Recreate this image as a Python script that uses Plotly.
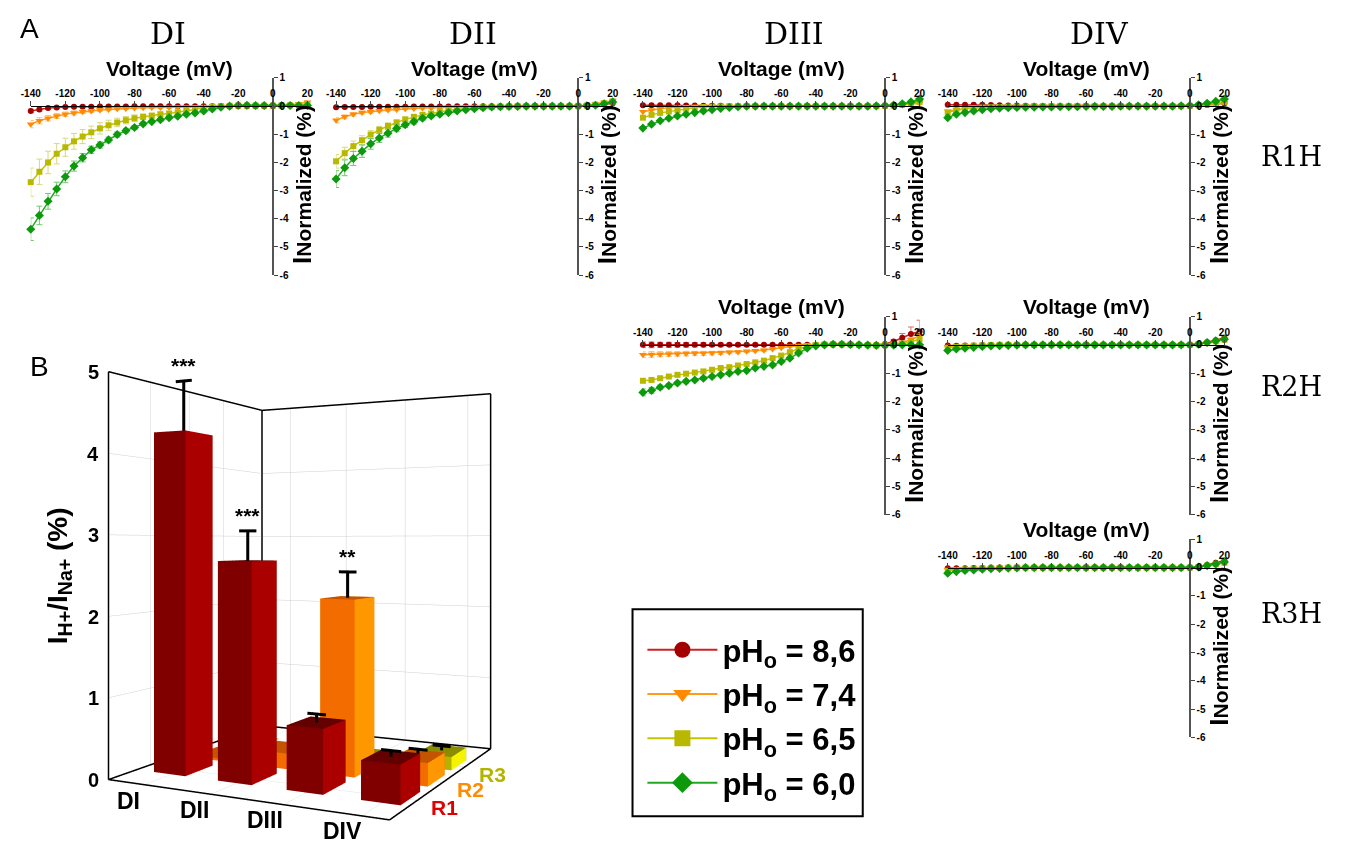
import plotly.graph_objects as go

W, H = 1347, 844

# ---------------- DATA ----------------
voltage = [-140, -135, -130, -125, -120, -115, -110, -105, -100, -95, -90, -85, -80,
           -75, -70, -65, -60, -55, -50, -45, -40, -35, -30, -25, -20, -15, -10, -5,
           0, 5, 10, 15, 20]

ph_labels = ["pH<sub>o</sub> = 8,6", "pH<sub>o</sub> = 7,4", "pH<sub>o</sub> = 6,5", "pH<sub>o</sub> = 6,0"]

# R1H - DI
r1_di_86 = [-0.17, -0.12, -0.07, -0.05, -0.03, -0.02, -0.02, -0.02, -0.01, -0.01, -0.01, -0.01, 0.00,
            0.00, 0.00, 0.00, 0.00, 0.00, 0.00, 0.00, 0.00, 0.00, 0.00, 0.00, 0.00, 0.00, 0.00, 0.00,
            0.00, 0.01, 0.02, 0.03, 0.04]
r1_di_74 = [-0.64, -0.52, -0.43, -0.35, -0.29, -0.24, -0.20, -0.17, -0.14, -0.12, -0.09, -0.08, -0.07,
            -0.06, -0.05, -0.05, -0.04, -0.03, -0.03, -0.02, -0.02, -0.01, 0.00, 0.01, 0.01, 0.01, 0.01, 0.01,
            0.01, 0.02, 0.04, 0.08, 0.14]
r1_di_65 = [-2.70, -2.33, -2.00, -1.69, -1.46, -1.25, -1.08, -0.93, -0.79, -0.68, -0.58, -0.50, -0.43,
            -0.38, -0.34, -0.29, -0.26, -0.22, -0.17, -0.12, -0.06, -0.02, 0.00, 0.01, 0.02, 0.02, 0.02, 0.02,
            0.02, 0.02, 0.03, 0.04, 0.06]
r1_di_60 = [-4.37, -3.88, -3.38, -2.94, -2.51, -2.13, -1.83, -1.55, -1.38, -1.20, -1.01, -0.87, -0.76,
            -0.63, -0.55, -0.48, -0.41, -0.36, -0.29, -0.24, -0.17, -0.10, -0.04, 0.00, 0.03, 0.03, 0.02, 0.02,
            0.02, 0.02, 0.02, 0.02, 0.02]
r1_di_86_err = [0.06, 0.05, 0.04, 0.04, 0.03, 0.03, 0.03, 0.03, 0.02, 0.02, 0.02, 0.02, 0.02,
                0.02, 0.02, 0.02, 0.02, 0.02, 0.02, 0.02, 0.02, 0.02, 0.02, 0.02, 0.02, 0.02, 0.02, 0.02,
                0.02, 0.02, 0.02, 0.02, 0.02]
r1_di_74_err = [0.13, 0.11, 0.10, 0.09, 0.08, 0.07, 0.06, 0.05, 0.05, 0.04, 0.04, 0.04, 0.03,
                0.03, 0.03, 0.03, 0.03, 0.02, 0.02, 0.02, 0.02, 0.02, 0.02, 0.02, 0.02, 0.02, 0.02, 0.02,
                0.02, 0.02, 0.03, 0.04, 0.05]
r1_di_65_err = [0.50, 0.45, 0.40, 0.36, 0.32, 0.28, 0.25, 0.22, 0.20, 0.18, 0.15, 0.13, 0.12,
                0.10, 0.09, 0.08, 0.07, 0.06, 0.05, 0.04, 0.04, 0.03, 0.02, 0.02, 0.02, 0.02, 0.02, 0.02,
                0.02, 0.02, 0.02, 0.02, 0.02]
r1_di_60_err = [0.40, 0.33, 0.28, 0.24, 0.21, 0.18, 0.15, 0.13, 0.11, 0.10, 0.09, 0.08, 0.07,
                0.06, 0.05, 0.05, 0.04, 0.04, 0.03, 0.03, 0.03, 0.02, 0.02, 0.02, 0.02, 0.02, 0.02, 0.02,
                0.02, 0.02, 0.02, 0.02, 0.02]

# R1H - DII
r1_dii_86 = [-0.04, -0.03, -0.03, -0.03, -0.02, -0.02, -0.02, -0.02, -0.02, -0.01, -0.01, -0.01, -0.01,
             -0.01, 0.00, 0.00, 0.00, 0.00, 0.00, 0.00, 0.00, 0.00, 0.00, 0.00, 0.00, 0.00, 0.00, 0.00,
             0.00, 0.01, 0.03, 0.06, 0.10]
r1_dii_74 = [-0.50, -0.38, -0.29, -0.23, -0.20, -0.16, -0.14, -0.12, -0.09, -0.08, -0.07, -0.06, -0.05,
             -0.04, -0.03, -0.02, -0.02, -0.01, -0.01, 0.00, 0.00, 0.00, 0.00, 0.00, 0.00, 0.00, 0.00, 0.00,
             0.01, 0.03, 0.07, 0.13, 0.20]
r1_dii_65 = [-1.96, -1.67, -1.42, -1.21, -1.01, -0.84, -0.70, -0.58, -0.47, -0.38, -0.31, -0.26, -0.20,
             -0.15, -0.12, -0.08, -0.06, -0.04, -0.03, -0.02, -0.01, 0.00, 0.00, 0.00, 0.00, 0.00, 0.00, 0.00,
             0.01, 0.02, 0.05, 0.10, 0.16]
r1_dii_60 = [-2.59, -2.19, -1.86, -1.60, -1.34, -1.13, -0.96, -0.79, -0.66, -0.55, -0.43, -0.35, -0.29,
             -0.23, -0.17, -0.13, -0.09, -0.06, -0.03, -0.02, -0.01, -0.01, 0.00, 0.00, 0.00, 0.00, 0.00, 0.00,
             0.00, 0.01, 0.03, 0.08, 0.15]
r1_dii_86_err = [0.04, 0.04, 0.03, 0.03, 0.03, 0.03, 0.02, 0.02, 0.02, 0.02, 0.02, 0.02, 0.02,
                 0.02, 0.02, 0.02, 0.02, 0.02, 0.02, 0.02, 0.02, 0.02, 0.02, 0.02, 0.02, 0.02, 0.02, 0.02,
                 0.02, 0.02, 0.02, 0.03, 0.03]
r1_dii_74_err = [0.09, 0.07, 0.06, 0.05, 0.05, 0.04, 0.04, 0.04, 0.03, 0.03, 0.03, 0.03, 0.02,
                 0.02, 0.02, 0.02, 0.02, 0.02, 0.02, 0.02, 0.02, 0.02, 0.02, 0.02, 0.02, 0.02, 0.02, 0.02,
                 0.02, 0.02, 0.03, 0.03, 0.04]
r1_dii_65_err = [0.24, 0.21, 0.18, 0.16, 0.14, 0.12, 0.10, 0.09, 0.08, 0.07, 0.06, 0.05, 0.05,
                 0.04, 0.04, 0.03, 0.03, 0.03, 0.02, 0.02, 0.02, 0.02, 0.02, 0.02, 0.02, 0.02, 0.02, 0.02,
                 0.02, 0.02, 0.02, 0.03, 0.03]
r1_dii_60_err = [0.30, 0.28, 0.25, 0.22, 0.19, 0.16, 0.14, 0.12, 0.10, 0.09, 0.07, 0.06, 0.05,
                 0.05, 0.04, 0.04, 0.03, 0.03, 0.02, 0.02, 0.02, 0.02, 0.02, 0.02, 0.02, 0.02, 0.02, 0.02,
                 0.02, 0.02, 0.02, 0.03, 0.03]

# R1H - DIII
r1_diii_86 = [0.03, 0.03, 0.03, 0.03, 0.03, 0.02, 0.02, 0.01, 0.01, 0.01, 0.00, 0.00, 0.00,
              0.00, 0.00, 0.00, 0.00, 0.00, 0.00, 0.00, 0.00, 0.00, 0.00, 0.00, 0.00, 0.00, 0.00, 0.00,
              0.00, 0.02, 0.05, 0.10, 0.18]
r1_diii_74 = [-0.20, -0.14, -0.09, -0.06, -0.03, -0.02, -0.01, 0.00, 0.00, 0.00, 0.00, 0.00, 0.00,
              0.00, 0.00, 0.00, 0.00, 0.00, 0.00, 0.00, 0.00, 0.00, 0.00, 0.00, 0.00, 0.00, 0.00, 0.00,
              0.01, 0.02, 0.04, 0.07, 0.10]
r1_diii_65 = [-0.41, -0.31, -0.24, -0.19, -0.14, -0.09, -0.06, -0.03, -0.02, -0.01, 0.00, 0.00, 0.00,
              0.00, 0.00, 0.00, 0.00, 0.00, 0.00, 0.00, 0.00, 0.00, 0.00, 0.00, 0.00, 0.00, 0.00, 0.00,
              0.01, 0.02, 0.05, 0.09, 0.15]
r1_diii_60 = [-0.78, -0.64, -0.52, -0.43, -0.35, -0.29, -0.23, -0.17, -0.13, -0.08, -0.05, -0.02, 0.00,
              0.00, 0.00, 0.00, 0.00, 0.00, 0.00, 0.00, 0.00, 0.00, 0.00, 0.00, 0.00, 0.00, 0.00, 0.01,
              0.02, 0.04, 0.08, 0.15, 0.25]

# R1H - DIV
r1_div_86 = [0.05, 0.05, 0.05, 0.05, 0.05, 0.04, 0.03, 0.02, 0.02, 0.01, 0.01, 0.00, 0.00,
             0.00, 0.00, 0.00, 0.00, 0.00, 0.00, 0.00, 0.00, 0.00, 0.00, 0.00, 0.00, 0.00, 0.00, 0.00,
             0.00, 0.02, 0.04, 0.07, 0.10]
r1_div_74 = [-0.18, -0.12, -0.08, -0.06, -0.04, -0.03, -0.02, -0.02, -0.01, -0.01, 0.00, 0.00, 0.00,
             0.00, 0.00, 0.00, 0.00, 0.00, 0.00, 0.00, 0.00, 0.00, -0.02, 0.00, 0.00, 0.00, 0.00, 0.00,
             0.00, 0.02, 0.05, 0.08, 0.12]
r1_div_65 = [-0.23, -0.15, -0.10, -0.07, -0.05, -0.04, -0.03, -0.02, -0.02, -0.01, 0.00, 0.00, 0.00,
             0.00, 0.00, 0.00, 0.00, 0.00, 0.00, 0.00, 0.00, 0.00, 0.00, 0.00, 0.00, 0.00, 0.00, 0.00,
             0.01, 0.03, 0.07, 0.11, 0.15]
r1_div_60 = [-0.41, -0.29, -0.23, -0.17, -0.13, -0.09, -0.07, -0.06, -0.05, -0.04, -0.04, -0.03, -0.03,
             -0.02, -0.02, -0.02, -0.01, -0.01, -0.01, -0.01, 0.00, 0.00, 0.00, 0.00, 0.00, 0.00, 0.00, 0.01,
             0.02, 0.05, 0.10, 0.17, 0.25]

# R2H - DIII
r2_diii_86 = [0.00, 0.00, 0.00, 0.00, 0.00, 0.00, 0.00, 0.00, 0.00, 0.00, 0.00, 0.00, 0.00,
              0.00, 0.00, 0.00, 0.00, 0.00, 0.00, 0.00, 0.00, 0.00, 0.00, 0.00, 0.00, 0.00, 0.00, 0.00,
              0.03, 0.12, 0.25, 0.38, 0.47]
r2_diii_74 = [-0.35, -0.34, -0.33, -0.32, -0.32, -0.31, -0.30, -0.30, -0.29, -0.28, -0.26, -0.25, -0.23,
              -0.21, -0.19, -0.15, -0.10, -0.05, -0.02, 0.00, 0.01, 0.02, 0.02, 0.02, 0.01, 0.00, -0.01, -0.02,
              -0.02, 0.02, 0.08, 0.18, 0.32]
r2_diii_65 = [-1.27, -1.24, -1.18, -1.12, -1.06, -1.02, -0.98, -0.94, -0.88, -0.82, -0.79, -0.73, -0.68,
              -0.62, -0.56, -0.47, -0.38, -0.26, -0.14, -0.06, -0.01, 0.01, 0.02, 0.02, 0.01, 0.00, -0.01, -0.02,
              -0.01, 0.01, 0.04, 0.10, 0.20]
r2_diii_60 = [-1.68, -1.61, -1.50, -1.44, -1.35, -1.29, -1.24, -1.18, -1.12, -1.06, -1.00, -0.94, -0.91,
              -0.82, -0.76, -0.71, -0.59, -0.47, -0.29, -0.12, -0.04, 0.00, 0.02, 0.02, 0.01, 0.00, -0.01, -0.02,
              -0.02, -0.01, 0.00, 0.00, 0.00]
r2_diii_86_err = [0.10, 0.10, 0.09, 0.09, 0.08, 0.08, 0.07, 0.07, 0.06, 0.06, 0.05, 0.05, 0.04,
                  0.04, 0.03, 0.03, 0.03, 0.02, 0.02, 0.02, 0.02, 0.02, 0.02, 0.02, 0.02, 0.02, 0.02, 0.02,
                  0.03, 0.06, 0.15, 0.25, 0.40]
r2_diii_74_err = [0.10, 0.10, 0.09, 0.09, 0.08, 0.08, 0.07, 0.07, 0.06, 0.06, 0.05, 0.05, 0.04,
                  0.04, 0.04, 0.03, 0.03, 0.03, 0.02, 0.02, 0.02, 0.02, 0.02, 0.02, 0.02, 0.02, 0.02, 0.02,
                  0.02, 0.03, 0.05, 0.08, 0.12]
r2_diii_65_err = [0.07, 0.06, 0.06, 0.05, 0.05, 0.05, 0.04, 0.04, 0.04, 0.04, 0.03, 0.03, 0.03,
                  0.03, 0.03, 0.03, 0.02, 0.02, 0.02, 0.02, 0.02, 0.02, 0.02, 0.02, 0.02, 0.02, 0.02, 0.02,
                  0.02, 0.02, 0.03, 0.04, 0.05]
r2_diii_60_err = [0.12, 0.10, 0.08, 0.07, 0.06, 0.06, 0.05, 0.05, 0.05, 0.04, 0.04, 0.04, 0.04,
                  0.04, 0.04, 0.03, 0.03, 0.03, 0.03, 0.02, 0.02, 0.02, 0.02, 0.02, 0.02, 0.02, 0.02, 0.02,
                  0.02, 0.02, 0.02, 0.02, 0.02]

# R2H - DIV
r2_div_86 = [-0.02, -0.03, -0.02, -0.02, -0.01, -0.01, 0.00, 0.00, 0.00, 0.00, 0.00, 0.00, 0.00,
             0.00, 0.00, 0.00, 0.00, 0.00, 0.00, 0.00, 0.00, 0.00, 0.00, 0.00, 0.00, 0.00, 0.00, 0.00,
             0.00, 0.03, 0.09, 0.16, 0.25]
r2_div_74 = [-0.08, -0.06, -0.04, -0.03, -0.02, -0.01, 0.00, 0.00, 0.00, 0.00, 0.00, 0.00, 0.00,
             0.00, 0.00, 0.00, 0.00, 0.00, 0.00, 0.00, 0.00, 0.00, 0.00, 0.00, 0.00, 0.00, -0.03, 0.00,
             0.00, 0.02, 0.06, 0.12, 0.20]
r2_div_65 = [-0.10, -0.07, -0.05, -0.03, -0.02, -0.01, 0.00, 0.00, 0.00, 0.00, 0.00, 0.00, 0.00,
             0.00, 0.00, 0.00, 0.00, 0.00, 0.00, 0.00, 0.00, 0.00, 0.00, 0.00, 0.00, 0.00, 0.00, 0.00,
             0.00, 0.02, 0.07, 0.12, 0.18]
r2_div_60 = [-0.20, -0.15, -0.12, -0.09, -0.06, -0.04, -0.03, -0.02, -0.01, 0.00, 0.00, 0.00, 0.00,
             0.00, 0.00, 0.00, 0.00, 0.00, 0.00, 0.00, 0.00, 0.00, 0.00, 0.00, 0.00, 0.00, 0.00, 0.00,
             0.00, 0.02, 0.08, 0.14, 0.20]

# R3H - DIV
r3_div_86 = [-0.02, -0.02, -0.02, -0.01, -0.01, 0.00, 0.00, 0.00, 0.00, 0.00, 0.00, 0.00, 0.00,
             0.00, 0.00, 0.00, 0.00, 0.00, 0.00, 0.00, 0.00, 0.00, 0.00, 0.00, 0.00, 0.00, 0.00, 0.00,
             0.00, 0.03, 0.09, 0.17, 0.25]
r3_div_74 = [-0.07, -0.05, -0.04, -0.03, -0.02, -0.01, 0.00, 0.00, 0.00, 0.00, 0.00, 0.00, 0.00,
             0.00, 0.00, 0.00, 0.00, 0.00, 0.00, 0.00, 0.00, 0.00, 0.00, 0.00, 0.00, 0.00, -0.02, 0.00,
             0.00, 0.02, 0.06, 0.12, 0.18]
r3_div_65 = [-0.12, -0.08, -0.06, -0.04, -0.03, -0.02, -0.01, 0.00, 0.00, 0.00, 0.00, 0.00, 0.00,
             0.00, 0.00, 0.00, 0.00, 0.00, 0.00, 0.00, 0.00, 0.00, 0.00, 0.00, 0.00, 0.00, 0.00, 0.00,
             0.00, 0.02, 0.07, 0.12, 0.17]
r3_div_60 = [-0.20, -0.14, -0.10, -0.08, -0.06, -0.04, -0.03, -0.02, -0.01, 0.00, 0.00, 0.00, 0.00,
             0.00, 0.00, 0.00, 0.00, 0.00, 0.00, 0.00, 0.00, 0.00, 0.00, 0.00, 0.00, 0.00, 0.00, 0.00,
             0.00, 0.02, 0.07, 0.13, 0.20]

x_ticks = [-140, -120, -100, -80, -60, -40, -20, 0, 20]
x_tick_text = ["-140", "-120", "-100", "-80", "-60", "-40", "-20", "0", "20"]
y_ticks = [-6, -5, -4, -3, -2, -1, 0, 1]
y_tick_text = ["-6", "-5", "-4", "-3", "-2", "-1", "0", "1"]

# Panel B data
domains = ["DI", "DII", "DIII", "DIV"]
regions = ["R1", "R2", "R3"]
ratio_R1 = [4.30, 2.68, 0.76, 0.45]
ratio_R2 = [0.03, 0.20, 2.20, 0.28]
ratio_R3 = [0.02, 0.30, 0.02, 0.17]
err_R1 = [0.68, 0.37, 0.10, 0.07]
err_R2 = [0.0, 0.0, 0.33, 0.08]
err_R3 = [0.0, 0.0, 0.0, 0.06]
stars_R1 = ["***", "***", "", ""]
stars_R2 = ["", "", "**", ""]
stars_R3 = ["", "", "", ""]
z_ticks = [0, 1, 2, 3, 4, 5]

# ---------------- STYLE ----------------
SANS = "Liberation Sans, Arial, sans-serif"
SERIF = "DejaVu Serif, serif"
mk_colors = ["#a30000", "#ff8a00", "#b8b800", "#0c9a0c"]
ln_colors = ["#cc2222", "#ff9a1a", "#c4c400", "#22a822"]
er_colors = ["#d87070", "#ffbf78", "#d8d880", "#70c870"]
symbols = ["circle", "triangle-down", "square", "diamond"]
msizes = [6, 7, 6, 7]

panels = [
    dict(series=[r1_di_86, r1_di_74, r1_di_65, r1_di_60],
         errs=[r1_di_86_err, r1_di_74_err, r1_di_65_err, r1_di_60_err],
         left=21, right=301, top=73, bottom=273),
    dict(series=[r1_dii_86, r1_dii_74, r1_dii_65, r1_dii_60],
         errs=[r1_dii_86_err, r1_dii_74_err, r1_dii_65_err, r1_dii_60_err],
         left=330, right=610, top=73, bottom=273),
    dict(series=[r1_diii_86, r1_diii_74, r1_diii_65, r1_diii_60], errs=None,
         left=640.5, right=920.5, top=73, bottom=273),
    dict(series=[r1_div_86, r1_div_74, r1_div_65, r1_div_60], errs=None,
         left=949, right=1229, top=73, bottom=273),
    dict(series=[r2_diii_86, r2_diii_74, r2_diii_65, r2_diii_60],
         errs=[r2_diii_86_err, r2_diii_74_err, r2_diii_65_err, r2_diii_60_err],
         left=640.5, right=920.5, top=315, bottom=516),
    dict(series=[r2_div_86, r2_div_74, r2_div_65, r2_div_60], errs=None,
         left=949, right=1229, top=315, bottom=516),
    dict(series=[r3_div_86, r3_div_74, r3_div_65, r3_div_60], errs=None,
         left=949, right=1229, top=541, bottom=742),
]

fig = go.Figure()
layout = dict(width=W, height=H, margin=dict(l=0, r=0, t=0, b=0),
              paper_bgcolor="white", plot_bgcolor="rgba(0,0,0,0)",
              showlegend=True, hovermode=False)
annotations = []


def px(xp):
    return xp / W


def py(yp):
    return 1 - yp / H


XMIN, XMAX = -140, 20
YMIN, YMAX = -6, 1

for i, p in enumerate(panels, start=1):
    xa = "xaxis" if i == 1 else f"xaxis{i}"
    ya = "yaxis" if i == 1 else f"yaxis{i}"
    xr = "x" if i == 1 else f"x{i}"
    yr = "y" if i == 1 else f"y{i}"
    x0px = p["left"] + (p["right"] - p["left"]) * (0 - XMIN) / (XMAX - XMIN)
    y0px = p["top"] + (p["bottom"] - p["top"]) * (YMAX - 0) / (YMAX - YMIN)
    layout[xa] = dict(domain=[px(p["left"]), px(p["right"])], range=[XMIN, XMAX],
                      anchor="free", position=py(y0px), side="top",
                      tickvals=x_ticks, ticktext=x_tick_text, ticks="outside", ticklen=5, tickwidth=1,
                      tickfont=dict(family=SANS, size=10, color="black", weight="bold"),
                      showline=True, linecolor="black", linewidth=1,
                      showgrid=False, zeroline=False, fixedrange=True)
    layout[ya] = dict(domain=[py(p["bottom"]), py(p["top"])], range=[YMIN, YMAX],
                      anchor="free", position=px(x0px), side="right",
                      tickvals=y_ticks, ticktext=y_tick_text, ticks="outside", ticklen=4, tickwidth=1,
                      tickfont=dict(family=SANS, size=10, color="black", weight="bold"),
                      showline=True, linecolor="#555555", linewidth=1.5,
                      showgrid=False, zeroline=False, fixedrange=True)
    for k in range(4):
        err = None
        if p["errs"] is not None:
            err = dict(type="data", array=p["errs"][k], visible=True,
                       color=er_colors[k], thickness=1, width=3)
        fig.add_trace(go.Scatter(
            x=voltage, y=p["series"][k], xaxis=xr, yaxis=yr, mode="lines+markers",
            line=dict(color=ln_colors[k], width=1.5),
            marker=dict(color=mk_colors[k], size=msizes[k], symbol=symbols[k]),
            error_y=err, showlegend=False, cliponaxis=False))
    annotations.append(dict(text="<b>Voltage (mV)</b>", xref="paper", yref="paper",
                            x=px((p["left"] + p["right"]) / 2), y=py(p["top"] - 10),
                            xanchor="center", yanchor="middle", showarrow=False,
                            font=dict(family=SANS, size=21, color="black")))
    annotations.append(dict(text="<b><span style='font-size:26px'>I</span>Normalized (%)</b>",
                            xref="paper", yref="paper",
                            x=px(x0px + 30), y=py((p["top"] + p["bottom"]) / 2 + 8),
                            xanchor="center", yanchor="middle", showarrow=False, textangle=-90,
                            font=dict(family=SANS, size=21, color="black")))

# legend entries (legend-only traces)
for k in range(4):
    fig.add_trace(go.Scatter(
        x=[None], y=[None], xaxis="x", yaxis="y", mode="lines+markers", name=ph_labels[k],
        line=dict(color=ln_colors[k], width=2),
        marker=dict(color=mk_colors[k], size=17, symbol=symbols[k]),
        legendgroup=f"g{k}", showlegend=True))

layout["legend"] = dict(x=px(640), y=py(626), xanchor="left", yanchor="top",
                        borderwidth=0, bgcolor="rgba(0,0,0,0)",
                        font=dict(family=SANS, size=31, color="black", weight="bold"),
                        itemwidth=70, traceorder="grouped", tracegroupgap=1,
                        itemclick=False, itemdoubleclick=False)
layout["shapes"] = [dict(type="rect", xref="paper", yref="paper",
                         x0=px(630), x1=px(863), y0=py(822), y1=py(612),
                         line=dict(color="black", width=2), fillcolor="rgba(0,0,0,0)")]

# headers
for txt, xp in zip(["DI", "DII", "DIII", "DIV"], [160, 469, 793, 1103]):
    annotations.append(dict(text=txt, xref="paper", yref="paper", x=px(xp), y=py(28),
                            xanchor="center", yanchor="middle", showarrow=False,
                            font=dict(family=SERIF, size=30, color="black")))
for txt, yp in zip(["R1H", "R2H", "R3H"], [153, 386, 616]):
    annotations.append(dict(text=txt, xref="paper", yref="paper", x=px(1297), y=py(yp),
                            xanchor="center", yanchor="middle", showarrow=False,
                            font=dict(family=SERIF, size=27, color="black")))
annotations.append(dict(text="A", xref="paper", yref="paper", x=px(20), y=py(23),
                        xanchor="center", yanchor="middle", showarrow=False,
                        font=dict(family=SANS, size=28, color="black")))
annotations.append(dict(text="B", xref="paper", yref="paper", x=px(30), y=py(366),
                        xanchor="center", yanchor="middle", showarrow=False,
                        font=dict(family=SANS, size=28, color="black")))
annotations.append(dict(text="<b>I<sub>H+</sub>/I<sub>Na+</sub> (%)</b>", xref="paper", yref="paper",
                        x=px(50), y=py(578), xanchor="center", yanchor="middle", showarrow=False,
                        textangle=-90, font=dict(family=SANS, size=28, color="black")))

# ---------------- PANEL B (3D) ----------------
X0, X1 = -0.535, 3.35
Y0, Y1 = -0.98, 3.28
Z0, Z1 = 0.0, 5.0
BW, BD = 0.25, 0.35
PADX, PADY, PADZ = 0.01, 0.01, 0.012

row_vals = [ratio_R1, ratio_R2, ratio_R3]
row_errs = [err_R1, err_R2, err_R3]
row_stars = [stars_R1, stars_R2, stars_R3]
face_cols = [
    dict(front="#800000", side="#ab0000", top="#630000"),
    dict(front="#f26c00", side="#ff9800", top="#c45400"),
    dict(front="#b4b400", side="#f4f400", top="#8c8c00"),
]
reg_colors = ["#e00000", "#ff8c00", "#b4b400"]

for r, vals in enumerate(row_vals):
    vx, vy, vz, I, J, K, fc = [], [], [], [], [], [], []
    cols = face_cols[r]
    for c, v in enumerate(vals):
        x0, x1 = c - BW, c + BW
        y0, y1 = r - BD, r + BD
        b = len(vx)
        for (xx, yy, zz) in [(x0, y0, 0), (x1, y0, 0), (x1, y1, 0), (x0, y1, 0),
                             (x0, y0, v), (x1, y0, v), (x1, y1, v), (x0, y1, v)]:
            vx.append(xx); vy.append(yy); vz.append(zz)
        tris = [((0, 1, 2), cols["front"]), ((0, 2, 3), cols["front"]),
                ((4, 5, 6), cols["top"]), ((4, 6, 7), cols["top"]),
                ((0, 1, 5), cols["front"]), ((0, 5, 4), cols["front"]),
                ((3, 2, 6), cols["front"]), ((3, 6, 7), cols["front"]),
                ((0, 3, 7), cols["side"]), ((0, 7, 4), cols["side"]),
                ((1, 2, 6), cols["side"]), ((1, 6, 5), cols["side"])]
        for (a, bb, cc), col in tris:
            I.append(b + a); J.append(b + bb); K.append(b + cc); fc.append(col)
    fig.add_trace(go.Mesh3d(x=vx, y=vy, z=vz, i=I, j=J, k=K, facecolor=fc,
                            flatshading=True, scene="scene", showscale=False,
                            lighting=dict(ambient=1.0, diffuse=0.0, specular=0.0,
                                          roughness=1.0, fresnel=0.0),
                            hoverinfo="skip"))

# error bars
ex, ey, ez = [], [], []
scene_ann = []
for r in range(3):
    for c in range(4):
        v, e = row_vals[r][c], row_errs[r][c]
        if e > 0:
            ex += [c, c, None, c - 0.13, c + 0.13, None]
            ey += [r, r, None, r, r, None]
            ez += [v, v + e, None, v + e, v + e, None]
        if row_stars[r][c]:
            scene_ann.append(dict(x=c, y=r, z=v + e, text=f"<b>{row_stars[r][c]}</b>",
                                  showarrow=False, yanchor="bottom", yshift=2,
                                  font=dict(family=SANS, size=21, color="black")))
fig.add_trace(go.Scatter3d(x=ex, y=ey, z=ez, mode="lines", scene="scene",
                           line=dict(color="black", width=6), hoverinfo="skip", showlegend=False))

# frame of the 3D box
edges = [((X0, Y0, Z0), (X1, Y0, Z0)), ((X1, Y0, Z0), (X1, Y1, Z0)),
         ((X0, Y0, Z0), (X0, Y0, Z1)), ((X0, Y0, Z1), (X0, Y1, Z1)),
         ((X0, Y1, Z1), (X1, Y1, Z1)), ((X1, Y1, Z1), (X1, Y1, Z0)),
         ((X0, Y1, Z0), (X0, Y1, Z1)), ((X0, Y0, Z0), (X0, Y1, Z0)),
         ((X0, Y1, Z0), (X1, Y1, Z0))]
for a, b in edges:
    fig.add_trace(go.Scatter3d(x=[a[0], b[0]], y=[a[1], b[1]], z=[a[2], b[2]], mode="lines",
                               scene="scene", line=dict(color="black", width=3),
                               hoverinfo="skip", showlegend=False))

for zt in z_ticks:
    scene_ann.append(dict(x=X0, y=Y0, z=zt, text=f"<b>{zt}</b>", showarrow=False,
                          xanchor="right", xshift=-8,
                          font=dict(family=SANS, size=20, color="black")))
for c, d in enumerate(domains):
    scene_ann.append(dict(x=c - 0.22, y=Y0, z=0, text=f"<b>{d}</b>", showarrow=False,
                          xanchor="center", yanchor="top", yshift=-3,
                          font=dict(family=SANS, size=23, color="black")))
for r, rg in enumerate(regions):
    scene_ann.append(dict(x=X1, y=r, z=0, text=f"<b>{rg}</b>", showarrow=False,
                          xanchor="left", yanchor="middle", xshift=11, yshift=-8,
                          font=dict(family=SANS, size=21, color=reg_colors[r])))

ax3 = dict(showbackground=False, showgrid=True, gridcolor="#d0d0d0", gridwidth=1,
           showline=False, zeroline=False, showticklabels=False, ticks="",
           title=dict(text=""), showspikes=False, autorange=False)
layout["scene"] = dict(
    domain=dict(x=[px(84), px(1032)], y=[py(832), py(256)]),
    xaxis=dict(ax3, range=[X0 - PADX, X1 + PADX], tickvals=[0, 1, 2, 3]),
    yaxis=dict(ax3, range=[Y0 - PADY, Y1 + PADY], tickvals=[0, 1, 2]),
    zaxis=dict(ax3, range=[Z0 - PADZ, Z1 + PADZ], tickvals=[1, 2, 3, 4]),
    aspectmode="manual", aspectratio=dict(x=1.01, y=0.665, z=1.28),
    camera=dict(eye=dict(x=1.505, y=-1.930, z=0.105), center=dict(x=0.794, y=0.257, z=0.105),
                up=dict(x=0, y=0, z=1), projection=dict(type="perspective")),
    bgcolor="rgba(0,0,0,0)", annotations=scene_ann)

layout["annotations"] = annotations
fig.update_layout(**layout)
fig.write_html("out.html", config={"displayModeBar": False})
